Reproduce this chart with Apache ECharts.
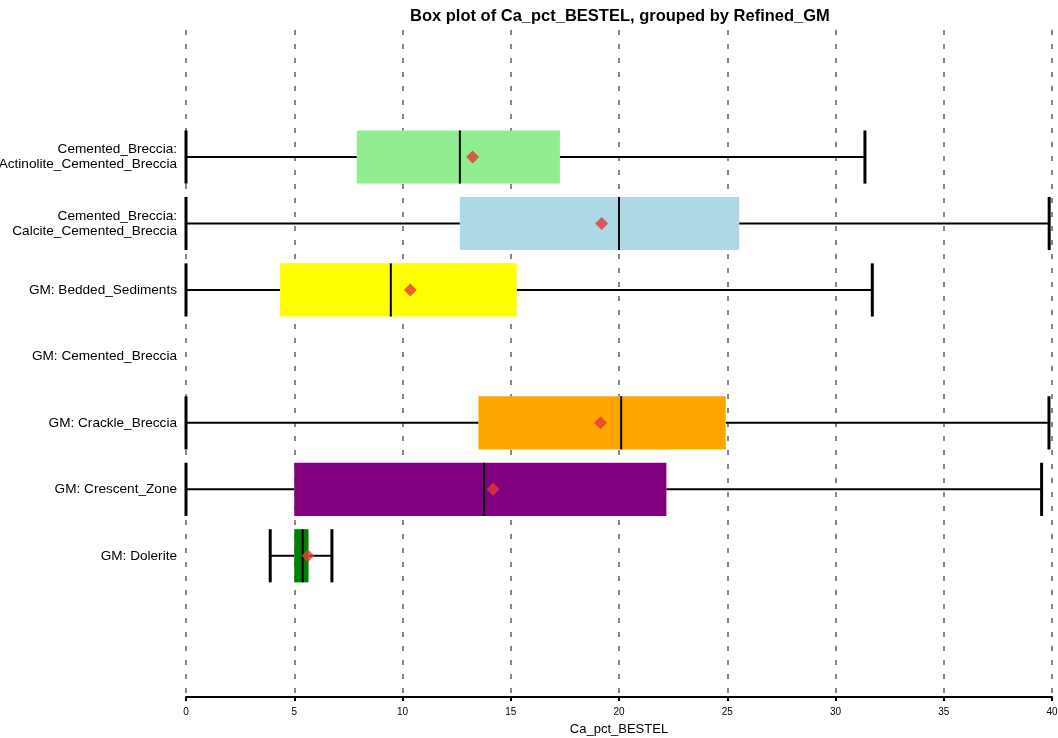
<!DOCTYPE html>
<html>
<head>
<meta charset="utf-8">
<script src="https://cdn.jsdelivr.net/npm/echarts@6/dist/echarts.min.js"></script>
<style>html,body{margin:0;padding:0;background:#fff}#c{width:1058px;height:738px}</style>
</head>
<body>
<div id="c"></div>
<script>
const categories = [
  'Cemented_Breccia:\nActinolite_Cemented_Breccia',
  'Cemented_Breccia:\nCalcite_Cemented_Breccia',
  'GM: Bedded_Sediments',
  'GM: Cemented_Breccia',
  'GM: Crackle_Breccia',
  'GM: Crescent_Zone',
  'GM: Dolerite'
];
// per category: [low whisker, Q1, median, Q3, high whisker] (null = no data)
const boxStats = [
  [0, 7.89, 12.65, 17.27, 31.36],
  [0, 12.65, 20.0, 25.55, 39.87],
  [0, 4.34, 9.46, 15.28, 31.70],
  null,
  [0, 13.51, 20.10, 24.93, 39.86],
  [0, 5.0, 13.77, 22.19, 39.52],
  [3.89, 5.0, 5.39, 5.66, 6.74]
];
const means = [13.24, 19.20, 10.36, null, 19.15, 14.19, 5.63];
const boxColors = ['#90EE90', '#ADD8E6', '#FFFF00', '#cccccc', '#FFA500', '#800080', '#008000'];
const xTicks = [0, 5, 10, 15, 20, 25, 30, 35, 40];

const boxData = [];
boxStats.forEach((s, i) => { if (s) boxData.push([i].concat(s)); });
const meanData = [];
means.forEach((m, i) => { if (m !== null) meanData.push([m, i]); });

const chart = echarts.init(document.getElementById('c'));
const font = "'Liberation Sans', Arial, Helvetica, sans-serif";
chart.setOption({
  animation: false,
  backgroundColor: '#fff',
  title: {
    text: 'Box plot of Ca_pct_BESTEL, grouped by Refined_GM',
    left: 405, top: 3,
    textStyle: { fontSize: 16.5, fontWeight: 'bold', color: '#000', fontFamily: font }
  },
  grid: [
    { left: 186, right: 6, top: 30, bottom: 41, containLabel: false, outerBoundsMode: 'none' },
    { left: 186, right: 6, top: 123.8, height: 465.2, containLabel: false, outerBoundsMode: 'none' }
  ],
  xAxis: [
    {
      gridIndex: 0, type: 'value', min: 0, max: 40, interval: 5,
      name: 'Ca_pct_BESTEL', nameLocation: 'middle', nameGap: 26,
      nameTextStyle: { fontSize: 13, color: '#000', fontFamily: font },
      axisLine: { show: true, lineStyle: { color: '#000', width: 2 } },
      axisTick: { show: true, length: 4, lineStyle: { color: '#000', width: 2 } },
      axisLabel: { fontSize: 10, color: '#000', margin: 10, fontFamily: font },
      splitLine: { show: true, lineStyle: { color: '#888', width: 2, type: [5, 9] } }
    },
    { gridIndex: 1, type: 'value', min: 0, max: 40, show: false, splitLine: { show: false } }
  ],
  yAxis: [
    { gridIndex: 0, type: 'value', show: false, splitLine: { show: false } },
    {
      gridIndex: 1, type: 'category', data: categories, inverse: true,
      axisLine: { show: false }, axisTick: { show: false },
      axisLabel: { interval: 0, fontSize: 13.6, color: '#000', margin: 9, lineHeight: 15, fontFamily: font },
      splitLine: { show: false }
    }
  ],
  series: [
    {
      type: 'custom', xAxisIndex: 1, yAxisIndex: 1,
      data: boxData,
      encode: { y: 0, x: [1, 2, 3, 4, 5] },
      renderItem: function (params, api) {
        const yi = api.value(0);
        const idx = yi;
        const p = [1, 2, 3, 4, 5].map(k => api.coord([api.value(k), yi]));
        const band = api.size([0, 1])[1];
        const h = band * 0.8;
        const y = p[0][1];
        const top = y - h / 2, bot = y + h / 2;
        const ls = { stroke: '#000', lineWidth: 2 };
        return {
          type: 'group',
          children: [
            { type: 'line', shape: { x1: p[0][0], y1: y, x2: p[1][0], y2: y }, style: ls },
            { type: 'line', shape: { x1: p[3][0], y1: y, x2: p[4][0], y2: y }, style: ls },
            { type: 'line', shape: { x1: p[0][0], y1: top, x2: p[0][0], y2: bot }, style: { stroke: '#000', lineWidth: 3 } },
            { type: 'line', shape: { x1: p[4][0], y1: top, x2: p[4][0], y2: bot }, style: { stroke: '#000', lineWidth: 3 } },
            { type: 'rect', shape: { x: p[1][0], y: top, width: p[3][0] - p[1][0], height: h }, style: { fill: boxColors[idx] } },
            { type: 'line', shape: { x1: p[2][0], y1: top, x2: p[2][0], y2: bot }, style: ls }
          ]
        };
      },
      z: 3
    },
    {
      type: 'scatter', xAxisIndex: 1, yAxisIndex: 1,
      data: meanData, symbol: 'diamond', symbolSize: 13,
      itemStyle: { color: '#E53935' }, z: 5
    }
  ]
});
</script>
</body>
</html>
